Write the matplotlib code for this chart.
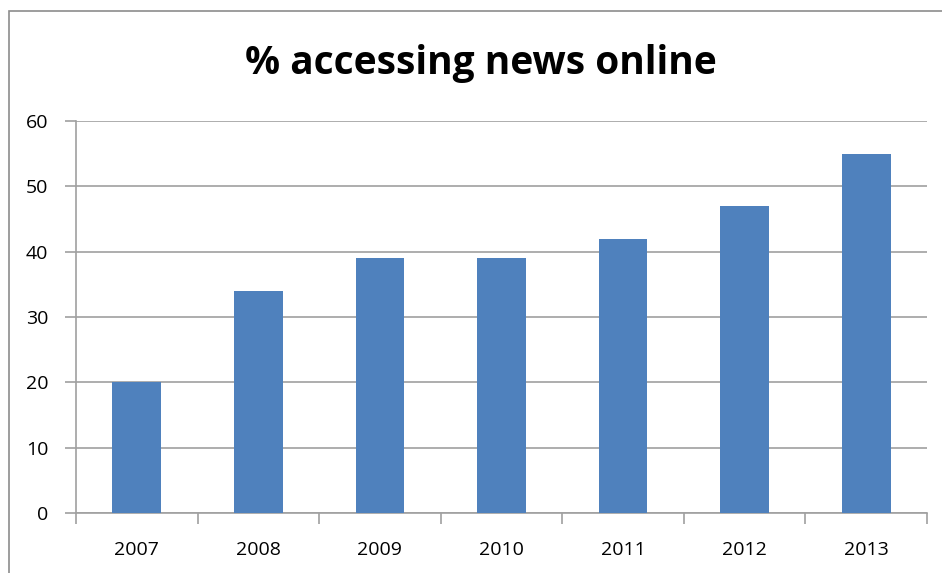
import matplotlib.pyplot as plt
from matplotlib.patches import Rectangle

# Chart data
years = ['2007', '2008', '2009', '2010', '2011', '2012', '2013']
pct_online = [20, 34, 39, 39, 42, 47, 55]
y_ticks = [0, 10, 20, 30, 40, 50, 60]

bar_color = '#4F81BD'
grid_color = '#A0A0A0'

plt.rcParams['font.family'] = ['Open Sans', 'DejaVu Sans']

fig = plt.figure(figsize=(9.42, 5.73), dpi=100)
ax = fig.add_axes([76 / 942, 1 - 513 / 573, (927 - 76) / 942, (513 - 121) / 573])

# outer chart frame (cropped on right and bottom)
fig.patches.append(Rectangle((9 / 942, -0.05), 1.1, 1 - 11 / 573 + 0.05,
                             transform=fig.transFigure, fill=False,
                             edgecolor='#8C8C8C', linewidth=1.2))

x = list(range(len(years)))
ax.bar(x, pct_online, width=0.4, color=bar_color, zorder=3)

ax.set_xlim(-0.5, len(years) - 0.5)
ax.set_ylim(0, 60)
ax.set_yticks(y_ticks)
ax.set_yticklabels([str(t) for t in y_ticks], fontsize=14)
ax.yaxis.grid(True, color=grid_color, linewidth=1.2, zorder=0)

# category labels centered, ticks at boundaries
ax.set_xticks(x)
ax.set_xticklabels(years, fontsize=14)
ax.tick_params(axis='x', length=0, pad=20)
ax.set_xticks([i - 0.5 for i in range(len(years) + 1)], minor=True)
ax.tick_params(axis='x', which='minor', length=8, color=grid_color, width=1.2)
ax.tick_params(axis='y', length=8, color=grid_color, width=1.2, pad=12)

for side in ['top', 'right']:
    ax.spines[side].set_visible(False)
for side in ['left', 'bottom']:
    ax.spines[side].set_color(grid_color)
    ax.spines[side].set_linewidth(1.2)

fig.text(481 / 942, 1 - 63 / 573, '% accessing news online', ha='center', va='center',
         fontsize=28, fontweight='bold')

fig.savefig('out.png', dpi=100)
